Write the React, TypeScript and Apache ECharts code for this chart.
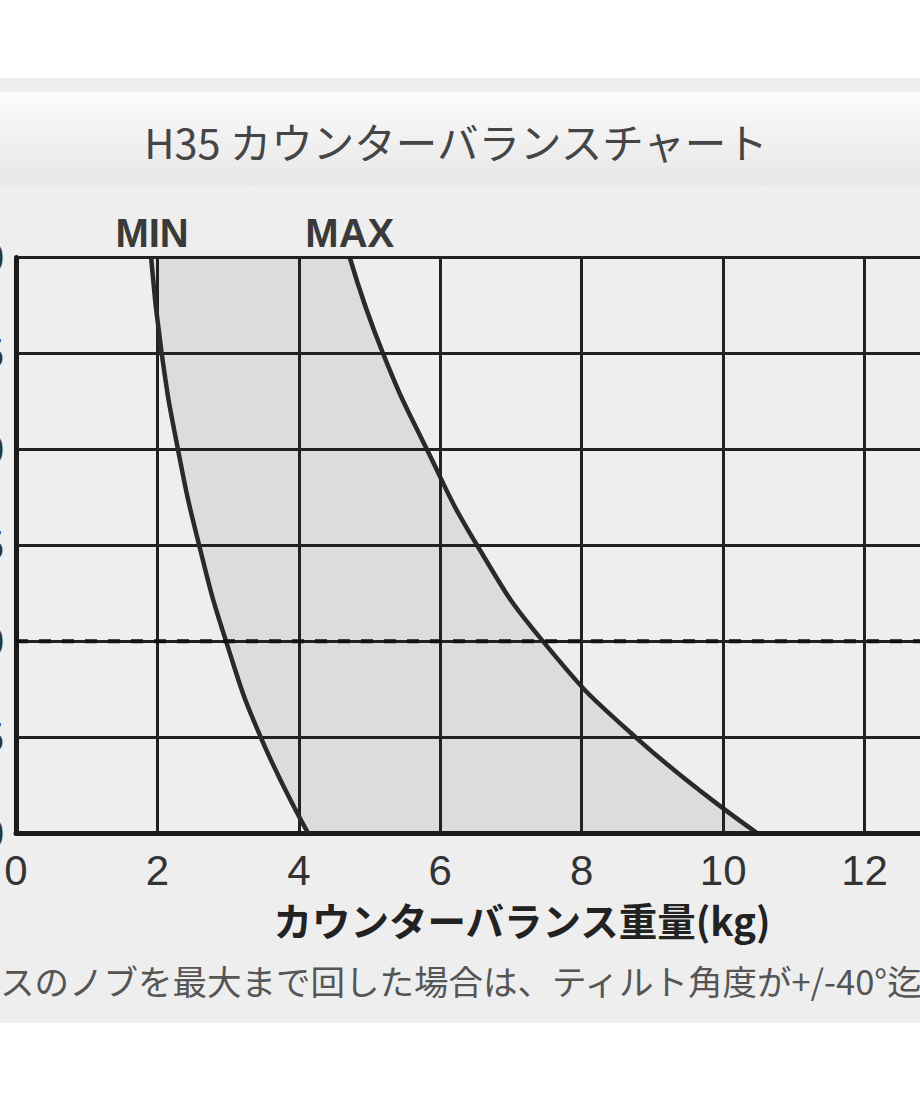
import React, { useEffect, useRef } from 'react';
import * as echarts from 'echarts';

// tilt angle ticks (bottom to top) and counterbalance weight at each angle
const angleTicks = ['0', '15', '30', '45', '60', '75', '90'];
const minWeight = [4.13, 3.46, 2.97, 2.59, 2.29, 2.06, 1.91];
const maxWeight = [10.48, 8.76, 7.45, 6.52, 5.81, 5.19, 4.72];
const dashedAngle = '30';

const titleText = 'H35 カウンターバランスチャート';
const xAxisName = 'カウンターバランス重量(kg)';
const noteText = 'スのノブを最大まで回した場合は、ティルト角度が+/-40°迄';

// the chart canvas starts left of the page, so the y labels are cut off like the original
const OFFSET = 100;
const CHART_W = 1200;
const CHART_H = 1104;
const X_MAX = 14;

const latin = '"Liberation Sans", Arial, sans-serif';
const cjk = '"Noto Sans CJK JP", "Noto Sans", sans-serif';

const App: React.FC = () => {
  const chartRef = useRef<HTMLDivElement>(null);

  useEffect(() => {
    if (!chartRef.current) return;
    const chart = echarts.init(chartRef.current, undefined, { renderer: 'svg' });

    const lineStyle = { color: '#2a2a2a', width: 4.5 };
    const gridLine = { color: '#222', width: 3 };
    const axisLine = { color: '#1c1c1c', width: 5 };
    const topIndex = angleTicks.length - 1;
    const dashedIndex = angleTicks.indexOf(dashedAngle);

    const markLabel = (text: string, dx: number) => ({
      show: true,
      formatter: text,
      position: 'top',
      distance: 4,
      offset: [dx, 0],
      fontSize: 40,
      fontWeight: 'bold',
      color: '#3a3a3a',
      fontFamily: latin
    });

    const options: echarts.EChartsOption = {
      animation: false,
      graphic: [
        {
          type: 'rect',
          z: -10,
          shape: { x: 0, y: 78, width: CHART_W, height: 945 },
          style: { fill: '#eeeeee' }
        },
        {
          type: 'rect',
          z: -9,
          shape: { x: 0, y: 92, width: CHART_W, height: 93 },
          style: {
            fill: new echarts.graphic.LinearGradient(0, 0, 0, 1, [
              { offset: 0, color: '#fbfbfb' },
              { offset: 1, color: '#e7e7e7' }
            ])
          }
        },
        {
          type: 'text',
          x: 456 + OFFSET,
          y: 141,
          style: {
            text: titleText,
            fontSize: 41.5,
            fontFamily: cjk,
            fill: '#454545',
            textAlign: 'center',
            textVerticalAlign: 'middle'
          }
        },
        {
          type: 'text',
          x: 0 + OFFSET,
          y: 980,
          style: {
            text: noteText,
            fontSize: 34.5,
            fontFamily: cjk,
            fill: '#555',
            textAlign: 'left',
            textVerticalAlign: 'middle'
          }
        }
      ],
      grid: { left: 16 + OFFSET, top: 257.5, width: 990, height: 575.5 },
      xAxis: {
        type: 'value',
        min: 0,
        max: X_MAX,
        interval: 2,
        axisLine: { show: true, onZero: false, lineStyle: axisLine },
        axisTick: { show: false },
        splitLine: { show: true, lineStyle: gridLine },
        axisLabel: { fontSize: 42, color: '#333', margin: 16, fontFamily: latin },
        name: xAxisName,
        nameLocation: 'middle',
        nameGap: 67,
        nameTextStyle: {
          fontSize: 38.5,
          fontWeight: 'bold',
          color: '#222',
          fontFamily: cjk,
          padding: [0, 0, 0, 22]
        }
      },
      yAxis: {
        type: 'category',
        data: angleTicks,
        boundaryGap: false,
        axisLine: { show: true, lineStyle: axisLine },
        axisTick: { show: false },
        splitLine: { show: true, lineStyle: gridLine },
        axisLabel: { interval: 0, fontSize: 42, color: '#333', margin: 12, fontFamily: latin }
      },
      series: [
        {
          type: 'line',
          name: 'MIN',
          data: minWeight,
          stack: 'range',
          smooth: true,
          symbol: 'none',
          lineStyle,
          z: 4,
          markPoint: {
            silent: true,
            symbol: 'circle',
            symbolSize: 1,
            itemStyle: { color: 'transparent' },
            data: [
              { coord: [minWeight[topIndex], topIndex], label: markLabel('MIN', 1) },
              { coord: [maxWeight[topIndex], topIndex], label: markLabel('MAX', 0) }
            ]
          }
        },
        {
          // stacked on MIN, so its area fills the band between the two curves;
          // drawn under the axes so the grid shows through the grey band
          type: 'line',
          name: 'MAX',
          data: maxWeight.map((v, i) => +(v - minWeight[i]).toFixed(2)),
          stack: 'range',
          smooth: true,
          symbol: 'none',
          lineStyle,
          areaStyle: { color: '#dcdcdc', opacity: 1 },
          z: -1
        },
        {
          // dashed reference line across the whole plot
          type: 'line',
          name: 'ref',
          data: [
            [0, dashedIndex],
            [X_MAX, dashedIndex]
          ],
          symbol: 'none',
          silent: true,
          lineStyle: { color: '#111', width: 4, type: [12, 11] },
          z: 5
        }
      ]
    };

    chart.setOption(options);

    return () => {
      chart.dispose();
    };
  }, []);

  return (
    <div
      style={{
        position: 'fixed',
        left: 0,
        top: 0,
        width: 920,
        height: 1104,
        overflow: 'hidden',
        background: '#fff'
      }}
    >
      <div
        ref={chartRef}
        style={{ position: 'absolute', left: -OFFSET, top: 0, width: CHART_W, height: CHART_H }}
      />
    </div>
  );
};

export default App;
